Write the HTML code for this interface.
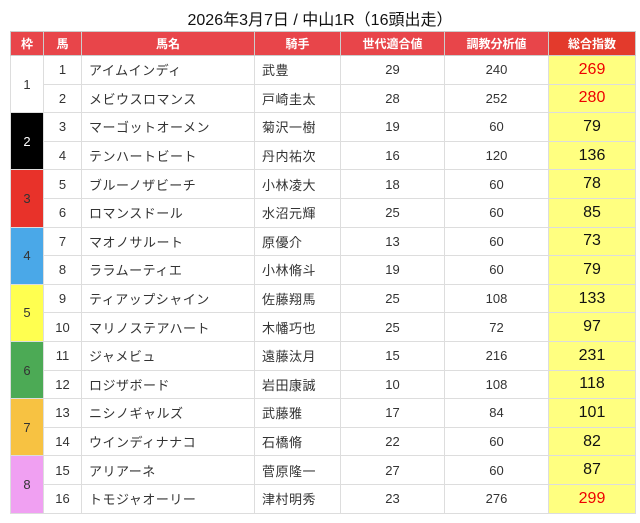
<!DOCTYPE html>
<html><head><meta charset="utf-8"><style>
body{margin:0;width:640px;height:523px;background:#fff;font-family:"Liberation Sans","Noto Sans CJK JP",sans-serif;overflow:hidden}
h1{position:absolute;top:6px;left:0;width:640px;text-align:center;font-size:16px;font-weight:normal;margin:0;color:#111}
table{position:absolute;left:10px;top:31px;width:625px;border-collapse:collapse;table-layout:fixed;font-size:13px;color:#333}
th{background:#e8454a;color:#fff;height:23px;font-size:12px;border:1px solid #ccc;padding:0}
th.tot{background:#e33a2c}
td{height:27.6px;border:1px solid #ddd;text-align:center;padding:0}
td.l{text-align:left;padding-left:7px;letter-spacing:0.5px}
td.tot{background:#ffff80;font-size:16px;color:#111}
td.red{color:#e00}
</style></head><body>
<h1>2026年3月7日 / 中山1R（16頭出走）</h1>
<table>
<colgroup><col style="width:33px"><col style="width:38px"><col style="width:173px"><col style="width:86px"><col style="width:104px"><col style="width:104px"><col style="width:87px"></colgroup>
<thead><tr><th>枠</th><th>馬</th><th>馬名</th><th>騎手</th><th>世代適合値</th><th>調教分析値</th><th class="tot">総合指数</th></tr></thead>
<tbody id="tb"></tbody></table>
<script>
const waku=[1,1,2,2,3,3,4,4,5,5,6,6,7,7,8,8];
const names=["アイムインディ","メビウスロマンス","マーゴットオーメン","テンハートビート","ブルーノザビーチ","ロマンスドール","マオノサルート","ララムーティエ","ティアップシャイン","マリノステアハート","ジャメビュ","ロジザボード","ニシノギャルズ","ウインディナナコ","アリアーネ","トモジャオーリー"];
const jockeys=["武豊","戸崎圭太","菊沢一樹","丹内祐次","小林凌大","水沼元輝","原優介","小林脩斗","佐藤翔馬","木幡巧也","遠藤汰月","岩田康誠","武藤雅","石橋脩","菅原隆一","津村明秀"];
const gen=[29,28,19,16,18,25,13,19,25,25,15,10,17,22,27,23];
const train=[240,252,60,120,60,60,60,60,108,72,216,108,84,60,60,276];
const total=[269,280,79,136,78,85,73,79,133,97,231,118,101,82,87,299];
const colors=["#fff","#000","#e8322a","#4aa8e8","#ffff50","#4caa55","#f7c242","#f0a0f2"];
const tb=document.getElementById('tb');
for(let i=0;i<16;i++){
 const tr=document.createElement('tr');
 
 
 let h='';
 if(i%2==0){const w=waku[i];h+=`<td rowspan="2" style="background:${colors[w-1]};color:${w==2?'#fff':'#333'}">${w}</td>`;}
 h+=`<td>${i+1}</td><td class="l">${names[i]}</td><td class="l">${jockeys[i]}</td><td>${gen[i]}</td><td>${train[i]}</td><td class="tot${total[i]>=250?' red':''}">${total[i]}</td>`;
 tr.innerHTML=h;tb.appendChild(tr);
}
</script></body></html>
